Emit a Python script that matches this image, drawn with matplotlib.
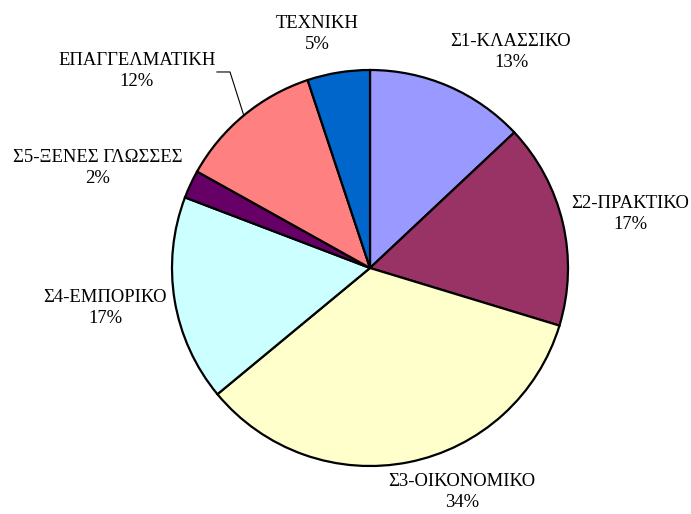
import numpy as np
import matplotlib.pyplot as plt

plt.rcParams['font.family'] = ['Liberation Serif', 'DejaVu Serif']

labels = ['Σ1-ΚΛΑΣΣΙΚΟ', 'Σ2-ΠΡΑΚΤΙΚΟ', 'Σ3-ΟΙΚΟΝΟΜΙΚΟ', 'Σ4-ΕΜΠΟΡΙΚΟ',
          'Σ5-ΞΕΝΕΣ ΓΛΩΣΣΕΣ', 'ΕΠΑΓΓΕΛΜΑΤΙΚΗ', 'ΤΕΧΝΙΚΗ']
values = [13.0, 16.7, 34.3, 16.8, 2.3, 11.8, 5.1]
colors = ['#9999FF', '#993366', '#FFFFCC', '#CCFFFF', '#660066', '#FF8080', '#0066CC']

# label centres in pie-radius units
label_pos = [(0.712, 1.091), (1.313, 0.273), (0.465, -1.131), (-1.338, -0.202),
             (-1.374, 0.505), (-1.177, 0.995), (-0.268, 1.182)]

fig = plt.figure(figsize=(6.91, 5.14), dpi=100)
ax = fig.add_axes([0, 0, 1, 1])

wedges, _ = ax.pie(values, colors=colors, startangle=90, counterclock=False,
                   radius=1.0, center=(0, 0),
                   wedgeprops=dict(edgecolor='black', linewidth=1.6))

total = sum(values)
for name, v, (lx, ly) in zip(labels, values, label_pos):
    ax.text(lx, ly, f"{name}\n{round(v / total * 100):.0f}%", ha='center', va='center',
            fontsize=13.4, linespacing=1.25)

# leader line for ΕΠΑΓΓΕΛΜΑΤΙΚΗ
w = wedges[5]
mid = np.deg2rad((w.theta1 + w.theta2) / 2)
ex, ey = np.cos(mid), np.sin(mid)
ax.plot([-0.773, -0.707, ex], [0.990, 0.990, ey], color='black', lw=0.8)

ax.set_xlim(-370 / 198, (691 - 370) / 198)
ax.set_ylim(-246 / 198, 268 / 198)
ax.set_aspect('auto')
ax.axis('off')

fig.savefig('out.png', dpi=100)
